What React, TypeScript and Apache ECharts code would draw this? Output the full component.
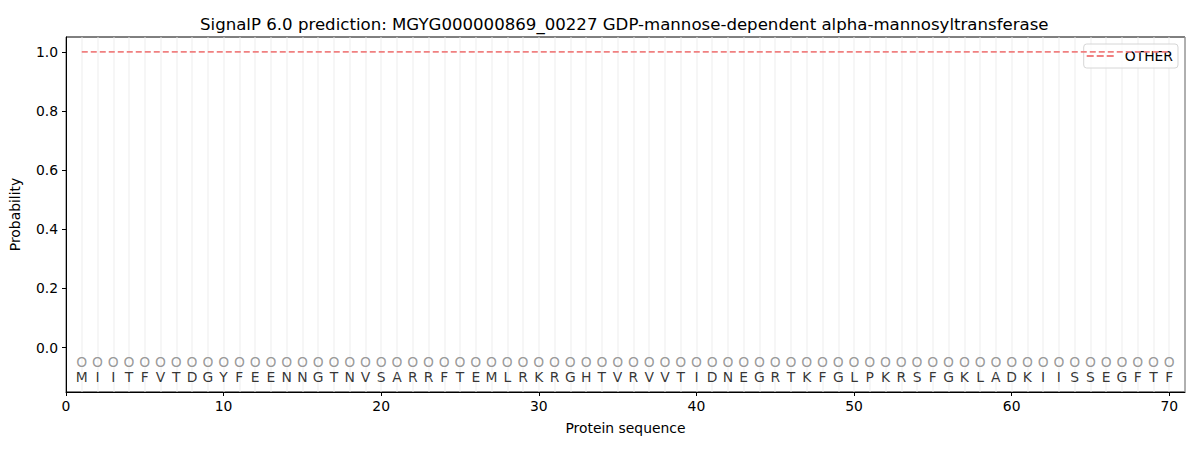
import React, { useEffect, useRef } from "react";
import * as echarts from "echarts";

const residues = "M I I T F V T D G Y F E E N N G T N V S A R R F T E M L R K R G H T V R V V T I D N E G R T K F G L P K R S F G K L A D K I I S S E G F T F".split(" ");
const otherProb = residues.map(() => 1.0);
const xTicks = [0, 10, 20, 30, 40, 50, 60, 70];
const yTicks = [0, 0.2, 0.4, 0.6, 0.8, 1.0];
const labelY = -0.05;
const residueY = -0.1;

const FONT = "DejaVu Sans";
const FS = 13.9;

export default function App() {
  const ref = useRef<HTMLDivElement>(null);
  useEffect(() => {
    if (!ref.current) return;
    const chart = echarts.init(ref.current, undefined, { renderer: "svg" });
    const positions = residues.map((_, i) => i + 1);
    chart.setOption({
      animation: false,
      textStyle: { fontFamily: FONT },
      title: {
        text: "SignalP 6.0 prediction: MGYG000000869_00227 GDP-mannose-dependent alpha-mannosyltransferase",
        left: 195,
        top: 11,
        textStyle: { fontFamily: FONT, fontSize: 16.6, fontWeight: "normal", color: "#000" },
      },
      grid: {
        left: 66,
        right: 15,
        top: 37,
        bottom: 58,
        show: true,
        borderColor: "#000",
        borderWidth: 1,
        backgroundColor: "transparent",
      },
      legend: {
        right: 22,
        top: 44,
        orient: "vertical",
        data: [{ name: "OTHER", icon: "path://M0,0h7v2h-7z M10,0h7v2h-7z M20,0h7v2h-7z" }],
        backgroundColor: "rgba(255,255,255,0.8)",
        borderColor: "#d6d6d6",
        borderWidth: 1,
        borderRadius: 3,
        padding: [5, 5, 5, 3],
        itemWidth: 29,
        itemHeight: 2,
        itemGap: 6,
        textStyle: { fontFamily: FONT, fontSize: FS, color: "#000", padding: [0, 0, 0, 5] },
      },
      xAxis: [
        {
          type: "value",
          min: 0,
          max: 71,
          name: "Protein sequence",
          nameLocation: "middle",
          nameGap: 29,
          nameTextStyle: { fontFamily: FONT, fontSize: FS, color: "#000" },
          axisLine: { show: true, onZero: false, lineStyle: { color: "#000" } },
          axisTick: { show: true, length: 4, lineStyle: { color: "#000" }, customValues: xTicks },
          axisLabel: { show: true, fontSize: FS, color: "#000", fontFamily: FONT, margin: 7, customValues: xTicks },
          splitLine: { show: false },
        },
        {
          type: "value",
          min: 0,
          max: 71,
          position: "bottom",
          axisLine: { show: false, onZero: false },
          axisTick: { show: false },
          axisLabel: { show: false },
          splitLine: { show: true, lineStyle: { color: "#ebebeb", width: 1.5, opacity: 0.6 } },
          interval: 1,
        },
      ],
      yAxis: {
        type: "value",
        min: -0.15,
        max: 1.05,
        name: "Probability",
        nameLocation: "middle",
        nameGap: 44,
        nameTextStyle: { fontFamily: FONT, fontSize: FS, color: "#000" },
        axisLine: { show: true, onZero: false, lineStyle: { color: "#000" } },
        axisTick: { show: true, length: 4, lineStyle: { color: "#000" }, customValues: yTicks },
        axisLabel: {
          show: true,
          fontSize: FS,
          color: "#000",
          fontFamily: FONT,
          margin: 8,
          customValues: yTicks,
          formatter: (v: number) => v.toFixed(1),
        },
        splitLine: { show: false },
      },
      series: [
        {
          name: "OTHER",
          type: "line",
          xAxisIndex: 0,
          data: positions.map((p, i) => [p, otherProb[i]]),
          symbol: "none",
          lineStyle: { color: "#f08080", type: [6, 3], width: 1.8 },
          itemStyle: { color: "#f08080" },
          z: 5,
        },
        {
          name: "marks",
          type: "scatter",
          xAxisIndex: 0,
          data: positions.map((p) => [p, labelY]),
          symbol: "circle",
          symbolSize: 1,
          itemStyle: { color: "transparent" },
          label: {
            show: true,
            position: "inside",
            formatter: "O",
            color: "#808080",
            fontSize: FS,
            fontFamily: FONT,
          },
          silent: true,
        },
        {
          name: "residues",
          type: "scatter",
          xAxisIndex: 0,
          data: positions.map((p, i) => ({ value: [p, residueY], name: residues[i] })),
          symbol: "circle",
          symbolSize: 1,
          itemStyle: { color: "transparent" },
          label: {
            show: true,
            position: "inside",
            formatter: (d: any) => d.name,
            color: "#000",
            fontSize: FS,
            fontFamily: FONT,
          },
          silent: true,
        },
      ],
    });
    return () => chart.dispose();
  }, []);
  return <div ref={ref} style={{ width: 1200, height: 450, position: "absolute", left: 0, top: 0 }} />;
}
